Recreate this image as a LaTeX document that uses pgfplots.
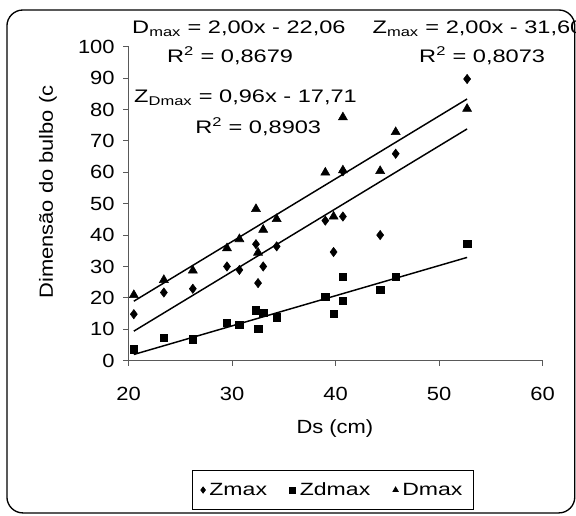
\documentclass[border=0pt]{standalone}
\usepackage{fontspec}
\setmainfont{Liberation Sans}[FakeStretch=1.15]
\newfontfamily\widefont{Liberation Sans}[FakeStretch=1.3]
\usepackage{pgfplots}
\pgfplotsset{compat=1.18}

\pgfplotstableread{
x     zmax  zdmax  dmax
20.5  14.8  3.7    20.9
23.4  21.7  7.3    25.7
26.2  22.9  6.8    28.7
29.5  30.0  12.0   35.8
30.7  28.9  11.4   38.7
32.3  37.1  16.1   48.3
32.5  24.7  10.2   34.4
33.0  30.0  15.3   41.7
34.3  36.4  13.8   45.1
39.0  44.6  20.3   59.9
39.8  34.6  15.0   45.9
40.7  45.9  19.0   60.6
40.7  60.3  26.8   77.5
44.3  40.0  22.5   60.4
45.8  65.9  26.8   72.8
52.7  89.7  37.3   80.2
}\datatable

\newcommand{\lbl}{\fontsize{14.3}{16}\selectfont}
\newcommand{\eqf}{\widefont\fontsize{13.6}{16}\selectfont}

\begin{document}
\begin{tikzpicture}
\clip (-96.5pt,-116.5pt) rectangle (335.5pt,270.5pt);
\begin{axis}[
    scale only axis,
    width=310.5pt, height=235.5pt,
    xmin=20, xmax=60, ymin=0, ymax=100,
    xtick={20,30,40,50,60},
    ytick={0,10,...,100},
    axis x line*=bottom, axis y line*=left,
    axis line style={black!65, line width=0.8pt},
    tick style={black!65, line width=0.8pt},
    tick align=outside,
    major tick length=4pt,
    tick label style={font=\lbl, black},
    /pgf/number format/assume math mode=true,
    xticklabel style={yshift=-12pt},
    yticklabel style={xshift=-3pt},
    clip=false,
    legend columns=3,
    legend style={at={(0.4935,-0.412)}, anchor=center,
        draw=black, line width=0.6pt, font=\widefont\fontsize{13.3}{15}\selectfont,
        inner xsep=6pt, inner ysep=7pt,
        /tikz/column 1/.style={column sep=1pt},
        /tikz/column 2/.style={column sep=15pt},
        /tikz/column 3/.style={column sep=1pt},
        /tikz/column 4/.style={column sep=15pt},
        /tikz/column 5/.style={column sep=1pt},
        /tikz/column 6/.style={column sep=0pt}},
    legend image post style={mark size=2.3pt},
]
\addplot[only marks, mark=diamond*, mark size=3.5pt, black] table[x=x, y=zmax] {\datatable};
\addlegendentry{Zmax}
\addplot[only marks, mark=square*, mark size=2.8pt, black] table[x=x, y=zdmax] {\datatable};
\addlegendentry{Zdmax}
\addplot[only marks, mark=triangle*, mark size=3.9pt, black] table[x=x, y=dmax] {\datatable};
\addlegendentry{Dmax}

% trend lines
\addplot[black, line width=1.1pt, forget plot] coordinates {(20.5,18.94) (52.7,83.34)};
\addplot[black, line width=1.1pt, forget plot] coordinates {(20.5,9.40) (52.7,73.80)};
\addplot[black, line width=1.1pt, forget plot] coordinates {(20.5,1.97) (52.7,32.88)};

% equations
\node[anchor=base west, inner xsep=0pt, font=\eqf] at (axis cs:20.32,104.3) {D\textsubscript{max} = 2,00x - 22,06};
\node[anchor=base west, inner xsep=0pt, font=\eqf] at (axis cs:23.70,95.0) {R\textsuperscript{2} = 0,8679};
\node[anchor=base west, inner xsep=0pt, font=\eqf] at (axis cs:20.51,82.1) {Z\textsubscript{Dmax} = 0,96x - 17,71};
\node[anchor=base west, inner xsep=0pt, font=\eqf] at (axis cs:26.41,72.2) {R\textsuperscript{2} = 0,8903};
\node[anchor=base west, inner xsep=0pt, font=\eqf] at (axis cs:43.55,104.3) {Z\textsubscript{max} = 2,00x - 31,60};
\node[anchor=base west, inner xsep=0pt, font=\eqf] at (axis cs:48.05,95.0) {R\textsuperscript{2} = 0,8073};

% axis titles
\node[rotate=90, font=\lbl] at (axis cs:12.2,53.7) {Dimensão do bulbo (c};
\node[font=\lbl] at (axis cs:39.93,-21.6) {Ds (cm)};
\end{axis}
\draw[line width=1pt, rounded corners=12pt] (-91.3pt,-114.2pt) rectangle (334.6pt,263pt);
\end{tikzpicture}
\end{document}
